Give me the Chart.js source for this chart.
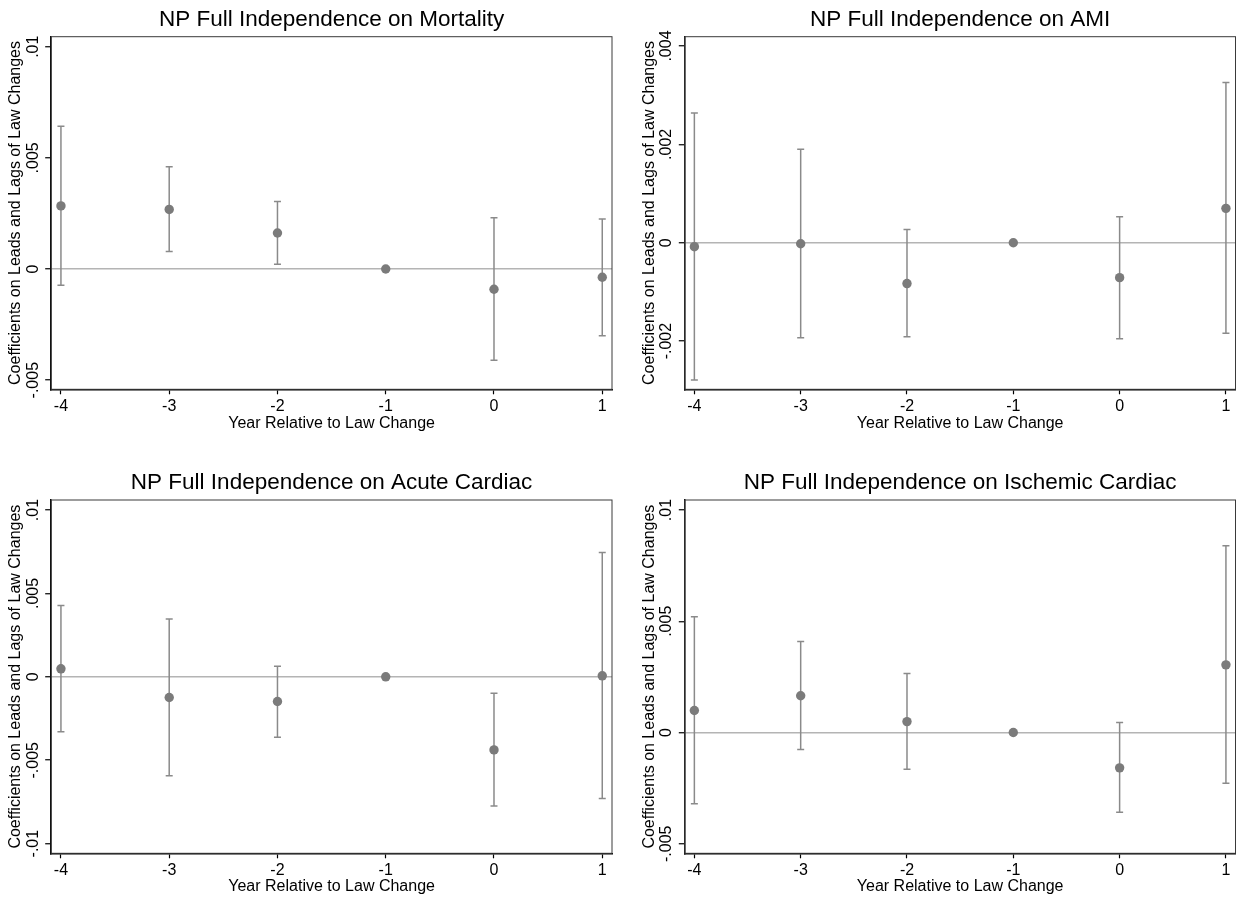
<!DOCTYPE html>
<html>
<head>
<meta charset="utf-8">
<script src="https://cdn.jsdelivr.net/npm/chart.js@4.4.1/dist/chart.umd.min.js"></script>
<style>
  html, body { margin: 0; padding: 0; background: #fff; }
  .panel { position: absolute; }
</style>
</head>
<body>
<div class="panel" style="left:0;top:0;width:620px;height:450px"><canvas id="mortChart"></canvas></div>
<div class="panel" style="left:620px;top:0;width:621px;height:450px"><canvas id="amiChart"></canvas></div>
<div class="panel" style="left:0;top:450px;width:620px;height:449px"><canvas id="acuteChart"></canvas></div>
<div class="panel" style="left:620px;top:450px;width:621px;height:449px"><canvas id="ischChart"></canvas></div>
<script>
// years relative to the law change
const years = [-4, -3, -2, -1, 0, 1];
const xTicks = [-4, -3, -2, -1, 0, 1];

// Mortality
const mortCoef = [0.00284, 0.00268, 0.00162, 0, -0.00091, -0.00037];
const mortLo = [-0.00073, 0.00079, 0.00021, null, -0.0041, -0.0030];
const mortHi = [0.00642, 0.0046, 0.00304, null, 0.00231, 0.00225];
const mortTicks = [-0.005, 0, 0.005, 0.01];
const mortTickLabels = ['-.005', '0', '.005', '.01'];

// AMI
const amiCoef = [-0.00008, -0.00002, -0.00083, 0, -0.00071, 0.0007];
const amiLo = [-0.00279, -0.00193, -0.00191, null, -0.00195, -0.00184];
const amiHi = [0.00264, 0.0019, 0.00027, null, 0.00053, 0.00326];
const amiTicks = [-0.002, 0, 0.002, 0.004];
const amiTickLabels = ['-.002', '0', '.002', '.004'];

// Acute cardiac
const acuteCoef = [0.00048, -0.00124, -0.00148, 0, -0.00438, 0.00006];
const acuteLo = [-0.0033, -0.00593, -0.00362, null, -0.00775, -0.0073];
const acuteHi = [0.00428, 0.00346, 0.00064, null, -0.00098, 0.00745];
const acuteTicks = [-0.01, -0.005, 0, 0.005, 0.01];
const acuteTickLabels = ['-.01', '-.005', '0', '.005', '.01'];

// Ischemic cardiac
const ischCoef = [0.00099, 0.00165, 0.00049, 0, -0.00159, 0.00304];
const ischLo = [-0.0032, -0.00076, -0.00165, null, -0.00358, -0.00228];
const ischHi = [0.0052, 0.00409, 0.00265, null, 0.00045, 0.00839];
const ischTicks = [-0.005, 0, 0.005, 0.01];
const ischTickLabels = ['-.005', '0', '.005', '.01'];

const FONT = '"Liberation Sans", Arial, sans-serif';
const DOT = '#7b7b7b';
const BAR = '#8a8a8a';

// y tick labels drawn rotated (reading upward), centred on each tick
const rotatedYTicks = {
  id: 'rotatedYTicks',
  afterDraw(chart, args, opts) {
    const ys = chart.scales.y;
    const ctx = chart.ctx;
    ctx.save();
    ctx.font = '16px ' + FONT;
    ctx.fillStyle = '#000';
    ctx.textAlign = 'center';
    ctx.textBaseline = 'middle';
    opts.values.forEach((v, i) => {
      ctx.save();
      ctx.translate(ys.right - 18, ys.getPixelForValue(v));
      ctx.rotate(-Math.PI / 2);
      ctx.fillText(opts.labels[i], 0, 0);
      ctx.restore();
    });
    ctx.restore();
  }
};

// thin frame around the plot region
const plotFrame = {
  id: 'plotFrame',
  beforeDatasetsDraw(chart) {
    const { ctx, chartArea: a } = chart;
    ctx.save();
    ctx.strokeStyle = '#3a3a3a';
    ctx.lineWidth = 1;
    ctx.strokeRect(a.left, a.top, a.right - a.left, a.bottom - a.top);
    ctx.restore();
  }
};

function makePanel(id, p) {
  const bars = [];
  const caps = [];
  years.forEach((x, i) => {
    if (p.lo[i] === null) return;
    bars.push({ x: x, y: p.lo[i] }, { x: x, y: p.hi[i] }, { x: x, y: null });
    caps.push({ x: x, y: p.lo[i] }, { x: x, y: p.hi[i] });
  });
  const dots = years.map((x, i) => ({ x: x, y: p.coef[i] }));

  new Chart(document.getElementById(id), {
    type: 'scatter',
    data: {
      datasets: [
        { type: 'line', data: bars, borderColor: BAR, borderWidth: 1.5, pointRadius: 0, spanGaps: false, order: 3 },
        { data: caps, pointStyle: 'line', pointRadius: 3.5, borderColor: BAR, borderWidth: 1.5, order: 2 },
        { data: dots, pointRadius: 4.7, backgroundColor: DOT, borderWidth: 0, order: 1 }
      ]
    },
    options: {
      responsive: true,
      maintainAspectRatio: false,
      animation: false,
      layout: { padding: { left: 0, right: p.padRight, top: 0, bottom: 0 } },
      plugins: {
        legend: { display: false },
        tooltip: { enabled: false },
        title: {
          display: true, text: p.title, fullSize: false, color: '#000',
          font: { family: FONT, size: 22.5, weight: 'normal' },
          padding: { top: p.titleTop, bottom: p.titleBottom }
        },
        rotatedYTicks: { values: p.ticks, labels: p.tickLabels }
      },
      scales: {
        x: {
          type: 'linear', min: -4.09, max: 1.09,
          afterBuildTicks: s => { s.ticks = xTicks.map(v => ({ value: v })); },
          afterFit: s => { s.height = p.xHeight; },
          border: { color: '#000', width: 1.5 },
          grid: { display: true, drawOnChartArea: false, drawTicks: true, tickLength: 5, tickColor: '#000', tickWidth: 1.2 },
          ticks: { color: '#000', padding: 3, font: { family: FONT, size: 16 }, maxRotation: 0, callback: v => String(v) },
          title: { display: true, text: 'Year Relative to Law Change', color: '#000', font: { family: FONT, size: 16 }, padding: { top: 0, bottom: p.xTitlePad } }
        },
        y: {
          type: 'linear', min: p.yMin, max: p.yMax,
          afterBuildTicks: s => { s.ticks = p.ticks.map(v => ({ value: v })); },
          afterFit: s => { s.width = p.yWidth; },
          border: { color: '#000', width: 1.5 },
          grid: {
            display: true, drawOnChartArea: true, drawTicks: true, tickLength: 6,
            color: c => (c.tick && c.tick.value === 0 ? '#b4b4b4' : 'rgba(0,0,0,0)'),
            lineWidth: 1.5, tickColor: '#000', tickWidth: 1.2
          },
          ticks: { display: false },
          title: { display: true, text: 'Coefficients on Leads and Lags of Law Changes', color: '#000', font: { family: FONT, size: 16 }, padding: { top: p.yTitlePad, bottom: 0 } }
        }
      }
    },
    plugins: [plotFrame, rotatedYTicks]
  });
}

makePanel('mortChart', {
  title: 'NP Full Independence on Mortality',
  coef: mortCoef, lo: mortLo, hi: mortHi, ticks: mortTicks, tickLabels: mortTickLabels,
  yMin: -0.00541, yMax: 0.01045,
  padRight: 8, yWidth: 51.2, yTitlePad: 6.1, titleTop: 6.5, titleBottom: 3.2, xHeight: 60.7, xTitlePad: 16.4
});
makePanel('amiChart', {
  title: 'NP Full Independence on AMI',
  coef: amiCoef, lo: amiLo, hi: amiHi, ticks: amiTicks, tickLabels: amiTickLabels,
  yMin: -0.00298, yMax: 0.00419,
  padRight: 4, yWidth: 64.8, yTitlePad: 19.7, titleTop: 6.5, titleBottom: 3.2, xHeight: 60.7, xTitlePad: 16.4
});
makePanel('acuteChart', {
  title: 'NP Full Independence on Acute Cardiac',
  coef: acuteCoef, lo: acuteLo, hi: acuteHi, ticks: acuteTicks, tickLabels: acuteTickLabels,
  yMin: -0.01058, yMax: 0.0106,
  padRight: 8, yWidth: 51.2, yTitlePad: 6.1, titleTop: 19.5, titleBottom: 3.5, xHeight: 45.7, xTitlePad: 2.7
});
makePanel('ischChart', {
  title: 'NP Full Independence on Ischemic Cardiac',
  coef: ischCoef, lo: ischLo, hi: ischHi, ticks: ischTicks, tickLabels: ischTickLabels,
  yMin: -0.00543, yMax: 0.01045,
  padRight: 4, yWidth: 64.8, yTitlePad: 19.7, titleTop: 19.5, titleBottom: 3.5, xHeight: 45.7, xTitlePad: 2.7
});
</script>
</body>
</html>
